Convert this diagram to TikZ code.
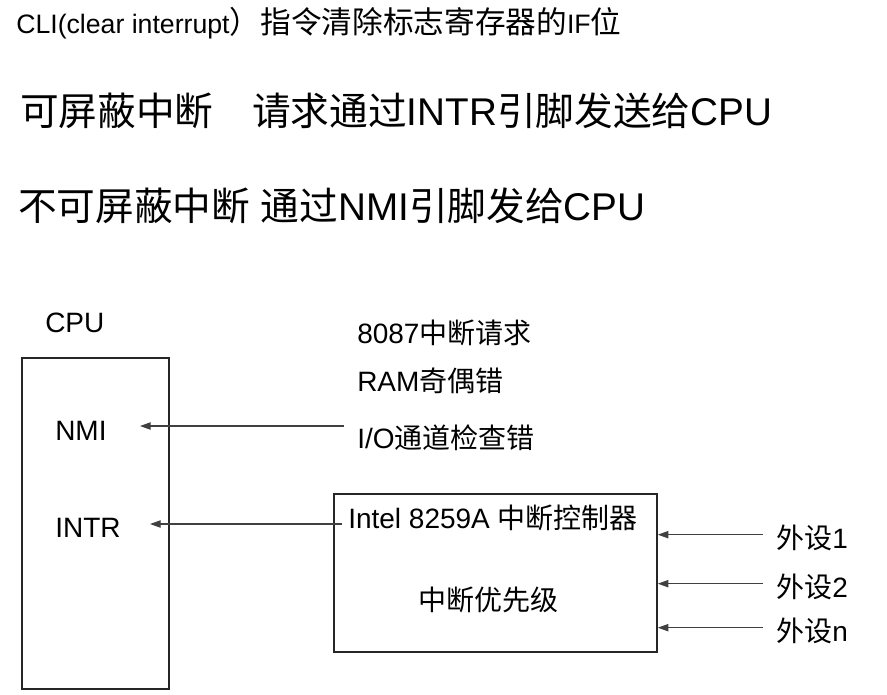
\documentclass[tikz,border=0pt]{standalone}
\usepackage{fontspec}
\setmainfont{Liberation Sans}
\newfontfamily\cjkfont{Noto Sans CJK SC}
\usepackage{tikz}
\usetikzlibrary{arrows.meta}
\newcommand{\zh}[1]{{\cjkfont #1}}
\newcommand{\zhbig}[1]{{\fontsize{23pt}{26pt}\selectfont\cjkfont #1}}

\begin{document}
\begin{tikzpicture}[
        x=0.75pt, y=-0.75pt,
        font=\fontsize{21pt}{25pt}\selectfont,
        txt/.style={inner sep=0pt, anchor=base west},
        head/.style={txt, font=\fontsize{29pt}{34pt}\selectfont},
        box/.style={draw=black!85, line width=1.2pt, inner sep=0pt},
        sig/.style={-{Triangle[length=8pt,width=5.5pt]}, draw=black!75, line width=0.9pt}
    ]
    \useasboundingbox (0,0) rectangle (887,694);

    % Headings
    \node[txt, font=\fontsize{20pt}{24pt}\selectfont] (cli) at (16,33)
        {CLI(clear interrupt\zhbig{）指令清除标志寄存器的}IF\zhbig{位}};
    \node[head] (mask)   at (20,125) {\zh{可屏蔽中断　请求通过}INTR\zh{引脚发送给}CPU};
    \node[head] (nomask) at (18,220) {\zh{不可屏蔽中断} \zh{通过}NMI\zh{引脚发给}CPU};

    % CPU
    \node[txt] (cpulabel) at (45,332) {CPU};
    \node[box, minimum width=110.25pt, minimum height=248.25pt] (cpu) at (95.5,523.5) {};
    \node[txt] (nmi)  at (55,440) {NMI};
    \node[txt] (intr) at (55,537) {INTR};
    \coordinate (nmi-pin)  at (140,426);
    \coordinate (intr-pin) at (150,524);

    % NMI sources
    \node[txt] (fpu)   at (357,343) {8087\zh{中断请求}};
    \node[txt] (ram)   at (357,391) {RAM\zh{奇偶错}};
    \node[txt] (ioerr) at (357,448) {I/O\zh{通道检查错}};

    % Interrupt controller
    \node[box, minimum width=242.25pt, minimum height=118.5pt] (intel) at (495.5,573) {};
    \node[txt] (pic)  at (348,528) {Intel 8259A \zh{中断控制器}};
    \node[inner sep=0pt] (prio) at (488,600) {\zh{中断优先级}};

    % Peripherals
    \node[inner sep=0pt, anchor=west] (dev1) at (776,538) {\zh{外设}1};
    \node[inner sep=0pt, anchor=west] (dev2) at (776,587) {\zh{外设}2};
    \node[inner sep=0pt, anchor=west] (devn) at (776,631) {\zh{外设}n};

    % Signals
    \draw[sig, shorten <=9.75pt] (ioerr.west |- nmi-pin) -- (nmi-pin);
    \draw[sig, shorten <=-6.75pt] (intel.west |- intr-pin) -- (intr-pin);
    \foreach \d in {dev1, dev2, devn}
        \draw[sig, shorten <=9.75pt] ([yshift=2.5pt]\d.west) -- ([yshift=2.5pt]intel.east |- \d.west);
\end{tikzpicture}
\end{document}
